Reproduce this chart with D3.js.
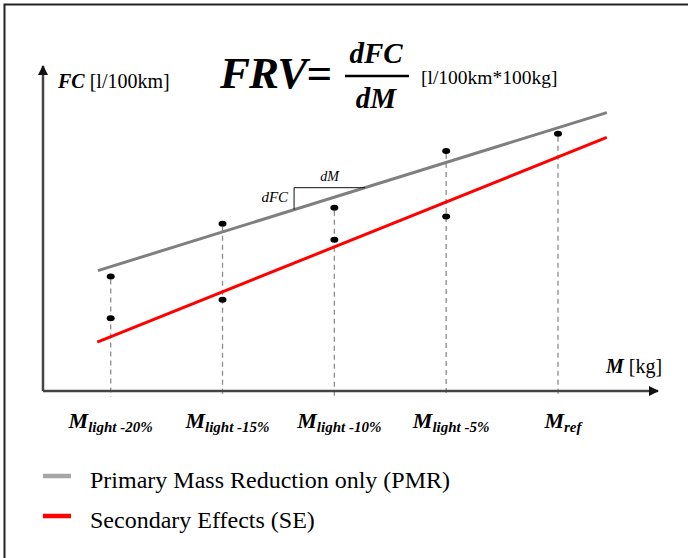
<!DOCTYPE html>
<html>
<head>
<meta charset="utf-8">
<script src="https://cdn.jsdelivr.net/npm/d3@7"></script>
<style>
  html, body { margin: 0; padding: 0; background: #fff; }
  svg { display: block; }
  svg text { font-family: "Liberation Serif", "Times New Roman", Times, "DejaVu Serif", serif; }
</style>
</head>
<body>
<div id="chart"></div>
<script>
// -----------------------------------------------------------------------
// Data (mass as % of reference, FC in arbitrary l/100km units)
// -----------------------------------------------------------------------
const massSteps = [80, 85, 90, 95, 100];
const massLabels = [
  { main: "M", sub: "light -20%" },
  { main: "M", sub: "light -15%" },
  { main: "M", sub: "light -10%" },
  { main: "M", sub: "light -5%" },
  { main: "M", sub: "ref" },
];
const pmrPoints = [2.86, 4.18, 4.58, 6.0, 6.43];   // upper dots
const sePoints = [1.82, 2.28, 3.78, 4.36, null];   // lower dots
const pmrLine = [[79.43, 3.01], [102.18, 6.96]];
const seLine = [[79.40, 1.22], [102.18, 6.34]];
const slopeMarker = [88.2, 91.37];                 // dM span on the PMR line
const legendItems = [
  { label: "Primary Mass Reduction only (PMR)", color: "#a6a6a6" },
  { label: "Secondary Effects (SE)", color: "#ff0000" },
];

const SERIF = "Liberation Serif, Times New Roman, serif";
const W = 688, H = 558;
const svg = d3.select("#chart").append("svg")
  .attr("width", W).attr("height", H)
  .attr("font-family", SERIF);

// frame (only left + top edges are visible in the original)
svg.append("path")
  .attr("d", `M4.5,${H} V4.5 H${W}`)
  .attr("fill", "none").attr("stroke", "#222").attr("stroke-width", 2);

const x = d3.scaleLinear().domain([80, 100]).range([110.7, 558]);
const y = d3.scaleLinear().domain([0, 8]).range([391, 71]);
const x0 = 43, y0 = 391;

// arrow marker
const defs = svg.append("defs");
defs.append("marker")
  .attr("id", "arrow")
  .attr("viewBox", "0 0 10 10")
  .attr("refX", 9).attr("refY", 5)
  .attr("markerWidth", 5).attr("markerHeight", 4)
  .attr("markerUnits", "strokeWidth")
  .attr("orient", "auto")
  .append("path").attr("d", "M0,0 L10,5 L0,10 Z").attr("fill", "#111");

// dashed drop lines
const drops = massSteps.map((m, i) => ({ m, top: pmrPoints[i] }));
svg.append("g").selectAll("line").data(drops).join("line")
  .attr("x1", d => x(d.m)).attr("x2", d => x(d.m))
  .attr("y1", d => y(d.top) + 3).attr("y2", y0 + 6)
  .attr("stroke", "#8c8c8c").attr("stroke-width", 1.3)
  .attr("stroke-dasharray", "5,4");

// axes
svg.append("line")
  .attr("x1", x0).attr("y1", y0).attr("x2", 658).attr("y2", y0)
  .attr("stroke", "#444").attr("stroke-width", 2.5)
  .attr("marker-end", "url(#arrow)");
svg.append("line")
  .attr("x1", x0).attr("y1", y0).attr("x2", x0).attr("y2", 66)
  .attr("stroke", "#444").attr("stroke-width", 2.5)
  .attr("marker-end", "url(#arrow)");

// trend lines
const line = d3.line().x(d => x(d[0])).y(d => y(d[1]));
svg.append("path").attr("d", line(pmrLine))
  .attr("fill", "none").attr("stroke", "#7f7f7f").attr("stroke-width", 3);
svg.append("path").attr("d", line(seLine))
  .attr("fill", "none").attr("stroke", "#ff0000").attr("stroke-width", 3);

// slope triangle dFC / dM on the PMR line
const pmrAt = m => d3.scaleLinear()
  .domain([pmrLine[0][0], pmrLine[1][0]])
  .range([pmrLine[0][1], pmrLine[1][1]])(m);
const [sm0, sm1] = slopeMarker;
svg.append("path")
  .attr("d", `M${x(sm0)},${y(pmrAt(sm0))} V${y(pmrAt(sm1))} H${x(sm1)}`)
  .attr("fill", "none").attr("stroke", "#111").attr("stroke-width", 1);
svg.append("text")
  .attr("x", x(sm0) - 6).attr("y", 202)
  .attr("text-anchor", "end").attr("font-style", "italic")
  .attr("font-size", 15).text("dFC");
svg.append("text")
  .attr("x", (x(sm0) + x(sm1)) / 2).attr("y", 181)
  .attr("text-anchor", "middle").attr("font-style", "italic")
  .attr("font-size", 14).text("dM");

// dots
const dots = [];
massSteps.forEach((m, i) => {
  dots.push({ m, v: pmrPoints[i] });
  if (sePoints[i] != null) dots.push({ m, v: sePoints[i] });
});
svg.append("g").selectAll("ellipse").data(dots).join("ellipse")
  .attr("cx", d => x(d.m)).attr("cy", d => y(d.v))
  .attr("rx", 4).attr("ry", 3).attr("fill", "#000");

// x category labels
const lab = svg.append("g").selectAll("text").data(massLabels).join("text")
  .attr("x", (d, i) => x(massSteps[i]) + (i === 0 ? 0 : 5)).attr("y", 428)
  .attr("text-anchor", "middle")
  .attr("font-weight", "bold").attr("font-style", "italic");
lab.append("tspan").attr("font-size", 22).text(d => d.main);
lab.append("tspan").attr("font-size", 15).attr("dy", 4).text(d => d.sub);

// axis titles
const fcT = svg.append("text").attr("x", 58).attr("y", 88).attr("font-size", 20);
fcT.append("tspan").attr("font-weight", "bold").attr("font-style", "italic").text("FC");
fcT.append("tspan").text(" [l/100km]");

const mT = svg.append("text").attr("x", 606).attr("y", 373).attr("font-size", 20);
mT.append("tspan").attr("font-weight", "bold").attr("font-style", "italic").text("M");
mT.append("tspan").text(" [kg]");

// formula
svg.append("text").attr("x", 220).attr("y", 88)
  .attr("font-size", 45).attr("font-weight", "bold").attr("font-style", "italic")
  .attr("letter-spacing", -1)
  .text("FRV=");
svg.append("text").attr("x", 376).attr("y", 63).attr("text-anchor", "middle")
  .attr("font-size", 29).attr("font-weight", "bold").attr("font-style", "italic")
  .text("dFC");
svg.append("line").attr("x1", 345).attr("x2", 409).attr("y1", 76).attr("y2", 76)
  .attr("stroke", "#000").attr("stroke-width", 2.5);
svg.append("text").attr("x", 376).attr("y", 108).attr("text-anchor", "middle")
  .attr("font-size", 29).attr("font-weight", "bold").attr("font-style", "italic")
  .text("dM");
svg.append("text").attr("x", 421).attr("y", 84).attr("font-size", 19.5)
  .text("[l/100km*100kg]");

// legend
const leg = svg.append("g").selectAll("g").data(legendItems).join("g")
  .attr("transform", (d, i) => `translate(43,${476 + i * 40})`);
leg.append("line").attr("x1", 0).attr("x2", 28).attr("y1", 0).attr("y2", 0)
  .attr("stroke", d => d.color).attr("stroke-width", 4.5);
leg.append("text").attr("x", 47).attr("y", 12).attr("font-size", 24)
  .text(d => d.label);
</script>
</body>
</html>
